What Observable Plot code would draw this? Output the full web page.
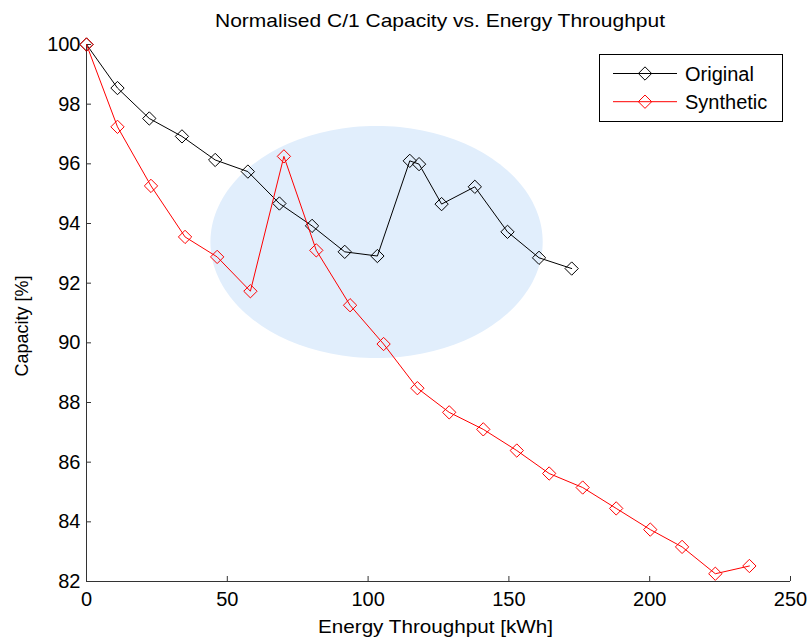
<!DOCTYPE html>
<html>
<head>
<meta charset="utf-8">
<script src="https://cdn.jsdelivr.net/npm/d3@7"></script>
<script src="https://cdn.jsdelivr.net/npm/@observablehq/plot@0.6"></script>
<style>
  html, body { margin: 0; padding: 0; background: #fff; }
  #chart { position: relative; width: 810px; height: 640px; }
</style>
</head>
<body>
<div id="chart"></div>
<script>
const title = "Normalised C/1 Capacity vs. Energy Throughput";
const xLabel = "Energy Throughput [kWh]";
const yLabel = "Capacity [%]";
const seriesNames = ["Original", "Synthetic"];
const seriesColors = ["#000000", "#ff0000"];

const throughputOriginal = [0, 11.0, 22.3, 33.9, 45.7, 57.3, 68.5, 80.1, 91.7, 103.3, 114.8, 118.1, 126.1, 137.9, 149.5, 160.7, 172.3];
const capacityOriginal   = [100, 98.54, 97.52, 96.92, 96.13, 95.74, 94.67, 93.92, 93.05, 92.91, 96.10, 95.99, 94.65, 95.23, 93.72, 92.85, 92.49];

const throughputSynthetic = [0, 11.0, 22.9, 35.0, 46.4, 58.2, 70.1, 81.6, 93.6, 105.5, 117.5, 128.8, 140.9, 152.8, 164.3, 176.2, 188.1, 200.2, 211.5, 223.3, 235.4];
const capacitySynthetic   = [100, 97.24, 95.26, 93.55, 92.88, 91.73, 96.25, 93.10, 91.26, 89.96, 88.48, 87.67, 87.10, 86.39, 85.62, 85.15, 84.45, 83.74, 83.16, 82.26, 82.52];

const xTicks = [0, 50, 100, 150, 200, 250];
const yTicks = [82, 84, 86, 88, 90, 92, 94, 96, 98, 100];

// highlighted region (ellipse) in data units
const ellipseCenter = {x: 103, y: 93.38};
const ellipseRadius = {x: 59.0, y: 3.89};

const original = throughputOriginal.map((x, i) => ({x, y: capacityOriginal[i], s: seriesNames[0]}));
const synthetic = throughputSynthetic.map((x, i) => ({x, y: capacitySynthetic[i], s: seriesNames[1]}));
const ellipse = d3.range(0, 361, 2).map(a => {
  const t = a * Math.PI / 180;
  return {x: ellipseCenter.x + ellipseRadius.x * Math.cos(t), y: ellipseCenter.y + ellipseRadius.y * Math.sin(t)};
});

const font = "'Liberation Sans', Arial, Helvetica, sans-serif";
const markerR = 6;

const chart = Plot.plot({
  width: 810,
  height: 640,
  marginLeft: 86,
  marginRight: 20,
  marginTop: 44,
  marginBottom: 59,
  style: {fontFamily: font, background: "#ffffff", color: "#000"},
  x: {domain: [0, 250]},
  y: {domain: [82, 100]},
  marks: [
    Plot.line(ellipse, {x: "x", y: "y", fill: "#e1eefc", stroke: "none", curve: "linear-closed"}),
    Plot.axisX(xTicks, {tickSize: 0, tickPadding: 10, fontSize: 20, label: null, fill: "#000"}),
    Plot.axisY(yTicks, {tickSize: 0, tickPadding: 6, fontSize: 20, label: null, fill: "#000"}),
    Plot.axisX(xTicks, {tickSize: -5, tickFormat: () => "", label: null, stroke: "#333"}),
    Plot.axisY(yTicks, {tickSize: -5, tickFormat: () => "", label: null, stroke: "#333"}),
    Plot.ruleY([82], {stroke: "#333", strokeWidth: 1}),
    Plot.ruleX([0], {stroke: "#333", strokeWidth: 1}),
    Plot.line(original, {x: "x", y: "y", stroke: seriesColors[0], strokeWidth: 1}),
    Plot.dot(original, {x: "x", y: "y", symbol: "diamond2", r: markerR, stroke: seriesColors[0], fill: "none", strokeWidth: 1}),
    Plot.line(synthetic, {x: "x", y: "y", stroke: seriesColors[1], strokeWidth: 1}),
    Plot.dot(synthetic, {x: "x", y: "y", symbol: "diamond2", r: markerR, stroke: seriesColors[1], fill: "none", strokeWidth: 1})
  ]
});

const svg = d3.select(chart);

// title and axis labels
svg.append("text").attr("x", 440).attr("y", 26.7)
  .attr("text-anchor", "middle").attr("font-family", font).attr("font-size", 18.5).attr("fill", "#000")
  .attr("textLength", 450).attr("lengthAdjust", "spacingAndGlyphs").text(title);
svg.append("text").attr("x", 435.5).attr("y", 633.3)
  .attr("text-anchor", "middle").attr("font-family", font).attr("font-size", 17.7).attr("fill", "#000")
  .attr("textLength", 235).attr("lengthAdjust", "spacingAndGlyphs").text(xLabel);
svg.append("text").attr("transform", "translate(28.3,326) rotate(-90)")
  .attr("text-anchor", "middle").attr("font-family", font).attr("font-size", 18).attr("fill", "#000")
  .text(yLabel);

// legend (inside the plot, top-right)
const legend = svg.append("g").attr("font-family", font).attr("font-size", 20).attr("text-anchor", "start");
legend.append("rect").attr("x", 599.5).attr("y", 54.5).attr("width", 183).attr("height", 67)
  .attr("fill", "#fff").attr("stroke", "#000").attr("stroke-width", 1);
const sym = d3.symbol(d3.symbolDiamond2, Math.PI * markerR * markerR);
seriesNames.forEach((name, i) => {
  const yy = 73.5 + i * 28.2;
  legend.append("line").attr("x1", 613).attr("x2", 677).attr("y1", yy).attr("y2", yy)
    .attr("stroke", seriesColors[i]).attr("stroke-width", 1);
  legend.append("path").attr("d", sym()).attr("transform", `translate(645,${yy})`)
    .attr("fill", "none").attr("stroke", seriesColors[i]).attr("stroke-width", 1);
  legend.append("text").attr("x", 685).attr("y", yy + 7).attr("fill", "#000")
    .attr("text-anchor", "start").text(name);
});

document.getElementById("chart").appendChild(chart);
</script>
</body>
</html>
